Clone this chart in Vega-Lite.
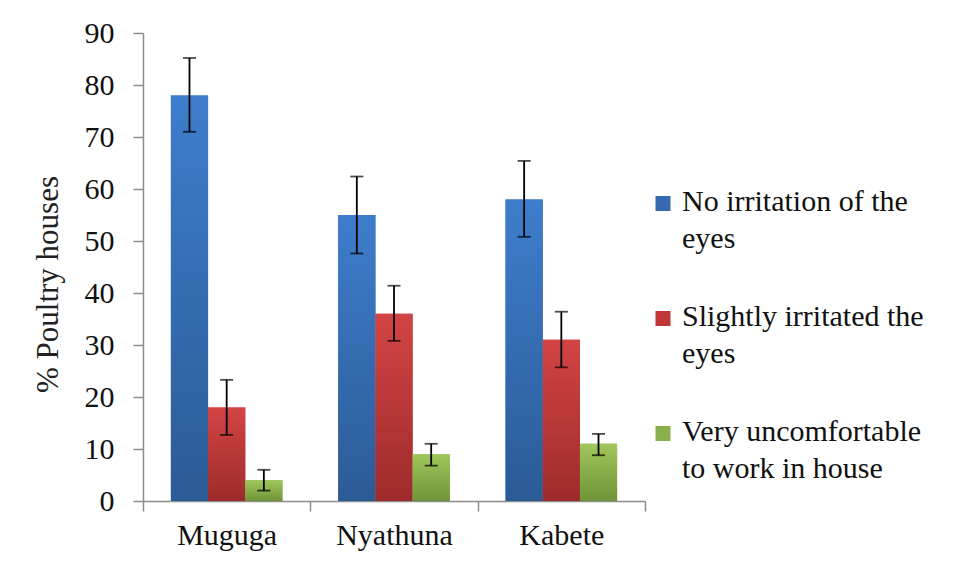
{
  "$schema": "https://vega.github.io/schema/vega-lite/v6.json",
  "autosize": {"type": "none"},
  "padding": {"left": 143, "top": 33, "right": 315, "bottom": 78},
  "width": 502,
  "height": 468,
  "background": "white",
  "config": {
    "view": {"stroke": null},
    "font": "Liberation Serif",
    "style": {"guide-label": {"lineHeight": 37}},
    "axis": {"labelFont": "Liberation Serif", "titleFont": "Liberation Serif", "labelColor": "#111111", "titleColor": "#222222", "domainColor": "#8c8c8c", "tickColor": "#8c8c8c", "domainWidth": 1.5, "tickWidth": 1.5, "grid": false},
    "legend": {"labelFont": "Liberation Serif"}
  },
  "data": {
    "values": [
      {"site": "Muguga", "cond": "No irritation of the eyes", "value": 78, "lo": 71, "hi": 85.2},
      {"site": "Muguga", "cond": "Slightly irritated the eyes", "value": 18, "lo": 12.7, "hi": 23.3},
      {"site": "Muguga", "cond": "Very uncomfortable to work in house", "value": 4, "lo": 2, "hi": 6},
      {"site": "Nyathuna", "cond": "No irritation of the eyes", "value": 55, "lo": 47.6, "hi": 62.4},
      {"site": "Nyathuna", "cond": "Slightly irritated the eyes", "value": 36, "lo": 30.8, "hi": 41.4},
      {"site": "Nyathuna", "cond": "Very uncomfortable to work in house", "value": 9, "lo": 6.8, "hi": 11},
      {"site": "Kabete", "cond": "No irritation of the eyes", "value": 58, "lo": 50.8, "hi": 65.4},
      {"site": "Kabete", "cond": "Slightly irritated the eyes", "value": 31, "lo": 25.7, "hi": 36.4},
      {"site": "Kabete", "cond": "Very uncomfortable to work in house", "value": 11, "lo": 8.8, "hi": 12.9}
    ]
  },
  "encoding": {
    "x": {
      "field": "site", "type": "nominal", "sort": ["Muguga", "Nyathuna", "Kabete"],
      "scale": {"paddingInner": 0, "paddingOuter": 0},
      "axis": {"title": null, "labelAngle": 0, "labelFontSize": 30, "tickBand": "extent", "tickSize": 10, "labelPadding": 9}
    },
    "xOffset": {
      "field": "cond", "type": "nominal",
      "sort": ["No irritation of the eyes", "Slightly irritated the eyes", "Very uncomfortable to work in house"],
      "scale": {"paddingInner": 0, "paddingOuter": 0.75}
    }
  },
  "layer": [
    {
      "mark": {"type": "bar"},
      "encoding": {
        "y": {
          "field": "value", "type": "quantitative",
          "scale": {"domain": [0, 90]},
          "axis": {"title": "% Poultry houses", "titleFontSize": 31, "titleFontWeight": "normal", "titlePadding": 20, "titleY": 251, "labelFontSize": 30, "values": [0,10,20,30,40,50,60,70,80,90], "tickSize": 10, "labelPadding": 19}
        },
        "color": {
          "field": "cond", "type": "nominal",
          "sort": ["No irritation of the eyes", "Slightly irritated the eyes", "Very uncomfortable to work in house"],
          "scale": {
            "domain": ["No irritation of the eyes", "Slightly irritated the eyes", "Very uncomfortable to work in house"],
            "range": ["#3569b0", "#bf3737", "#8aae4a"]
          },
          "legend": {
            "title": null,
            "orient": "none",
            "legendX": 505,
            "legendY": 163,
            "padding": 0,
            "symbolType": "M-1,-2H1V0H-1Z",
            "symbolSize": 225,
            "symbolStrokeWidth": 0,
            "labelFontSize": 30,
            "labelColor": "#111111",
            "labelLimit": 400,
            "labelOffset": 4,
            "labelBaseline": "alphabetic",
            "rowPadding": 48,
            "labelExpr": "datum.label == 'No irritation of the eyes' ? ['No irritation of the', 'eyes'] : datum.label == 'Slightly irritated the eyes' ? ['Slightly irritated the', 'eyes'] : ['Very uncomfortable', 'to work in house']"
          }
        }
      }
    },
    {
      "transform": [{"filter": "datum.cond == 'No irritation of the eyes'"}],
      "mark": {"type": "bar", "color": {"gradient": "linear", "x1": 0, "y1": 0, "x2": 0, "y2": 1, "stops": [{"offset": 0, "color": "#3e7dcc"}, {"offset": 1, "color": "#2b5b96"}]}},
      "encoding": {"y": {"field": "value", "type": "quantitative"}}
    },
    {
      "transform": [{"filter": "datum.cond == 'Slightly irritated the eyes'"}],
      "mark": {"type": "bar", "color": {"gradient": "linear", "x1": 0, "y1": 0, "x2": 0, "y2": 1, "stops": [{"offset": 0, "color": "#d34444"}, {"offset": 1, "color": "#9d2b2b"}]}},
      "encoding": {"y": {"field": "value", "type": "quantitative"}}
    },
    {
      "transform": [{"filter": "datum.cond == 'Very uncomfortable to work in house'"}],
      "mark": {"type": "bar", "color": {"gradient": "linear", "x1": 0, "y1": 0, "x2": 0, "y2": 1, "stops": [{"offset": 0, "color": "#a0c75b"}, {"offset": 1, "color": "#6f9438"}]}},
      "encoding": {"y": {"field": "value", "type": "quantitative"}}
    },
    {
      "mark": {"type": "rule", "color": "#000000", "strokeWidth": 1.8},
      "encoding": {
        "y": {"field": "lo", "type": "quantitative"},
        "y2": {"field": "hi"}
      }
    },
    {
      "mark": {"type": "tick", "color": "#000000", "thickness": 1.8, "size": 13},
      "encoding": {"y": {"field": "hi", "type": "quantitative"}}
    },
    {
      "mark": {"type": "tick", "color": "#000000", "thickness": 1.8, "size": 13},
      "encoding": {"y": {"field": "lo", "type": "quantitative"}}
    }
  ]
}
